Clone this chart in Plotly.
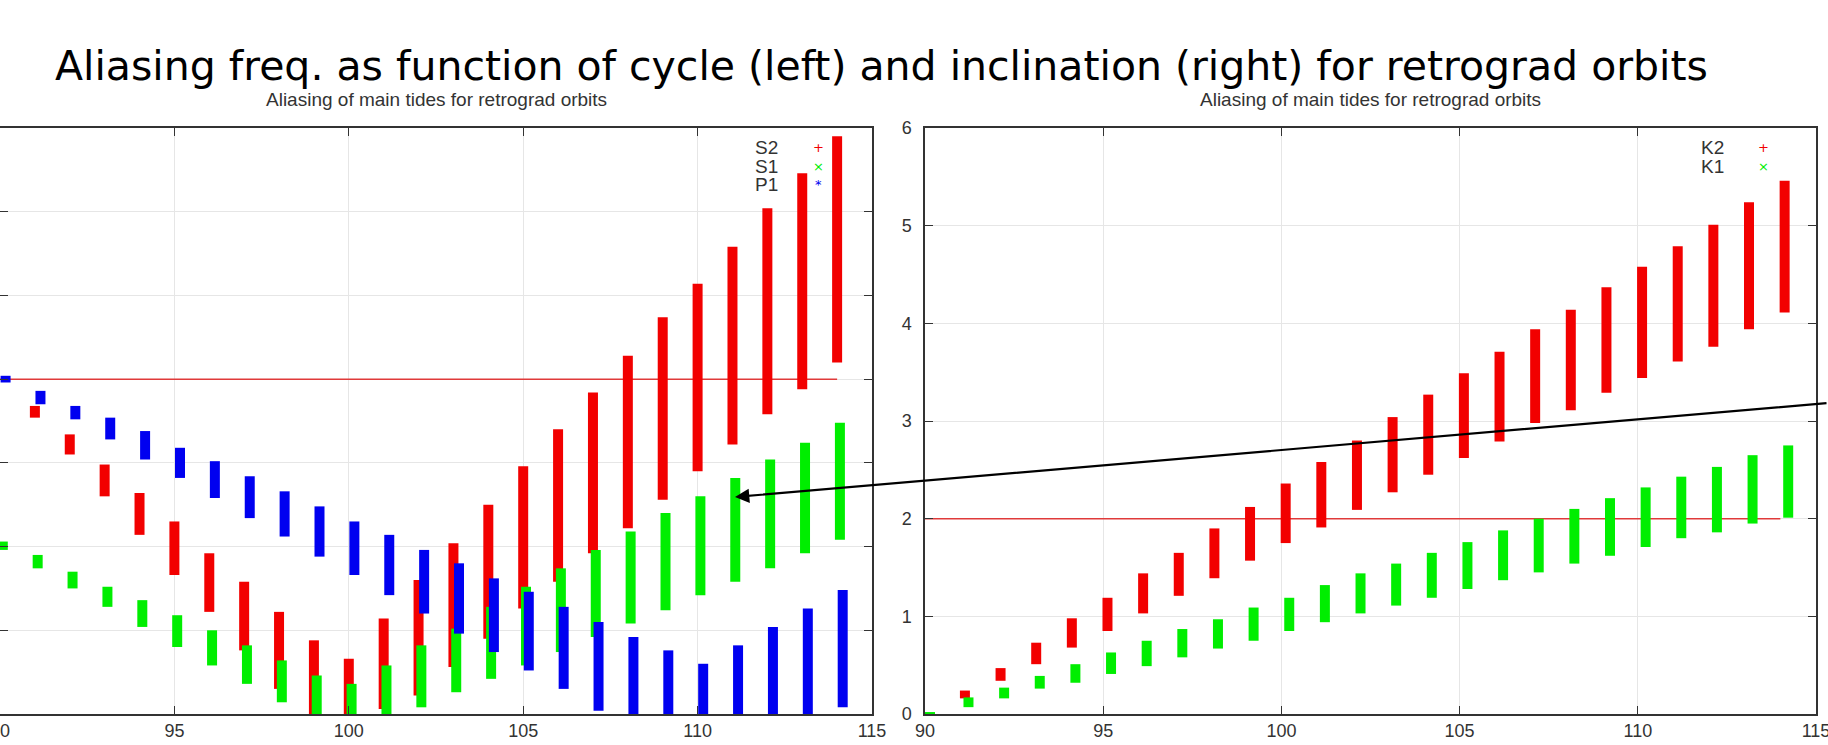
import plotly.graph_objects as go

W, H = 1828, 745

# ---------------- data: left plot (cycle) ----------------
s2_x  = [91.0, 92.0, 93.0, 94.0, 95.0, 96.0, 97.0, 98.0, 99.0, 100.0, 101.0, 102.0,
         103.0, 104.0, 105.0, 106.0, 107.0, 108.0, 109.0, 110.0, 111.0, 112.0, 113.0, 114.0]
s2_hi = [1.84, 1.67, 1.49, 1.32, 1.15, 0.96, 0.79, 0.61, 0.44, 0.33, 0.57, 0.80,
         1.02, 1.25, 1.48, 1.70, 1.92, 2.14, 2.37, 2.57, 2.79, 3.02, 3.23, 3.45]
s2_lo = [1.77, 1.55, 1.30, 1.07, 0.83, 0.61, 0.38, 0.15, 0.00, 0.00, 0.03, 0.11,
         0.28, 0.45, 0.63, 0.79, 0.96, 1.11, 1.28, 1.45, 1.61, 1.79, 1.94, 2.10]

s1_x  = [90.08, 91.08, 92.08, 93.08, 94.08, 95.08, 96.08, 97.08, 98.08, 99.08, 100.08, 101.08,
         102.08, 103.08, 104.08, 105.08, 106.08, 107.08, 108.08, 109.08, 110.08, 111.08,
         112.08, 113.08, 114.08]
s1_hi = [1.03, 0.95, 0.85, 0.76, 0.68, 0.59, 0.50, 0.41, 0.32, 0.23, 0.18, 0.29,
         0.41, 0.51, 0.64, 0.76, 0.87, 0.98, 1.09, 1.20, 1.30, 1.41, 1.52, 1.62, 1.74]
s1_lo = [0.98, 0.87, 0.75, 0.64, 0.52, 0.40, 0.29, 0.18, 0.07, 0.00, 0.00, 0.00,
         0.04, 0.13, 0.21, 0.29, 0.37, 0.46, 0.54, 0.62, 0.71, 0.79, 0.87, 0.96, 1.04]

p1_x  = [90.16, 91.16, 92.16, 93.16, 94.16, 95.16, 96.16, 97.16, 98.16, 99.16, 100.16, 101.16,
         102.16, 103.16, 104.16, 105.16, 106.16, 107.16, 108.16, 109.16, 110.16, 111.16,
         112.16, 113.16, 114.16]
p1_hi = [2.02, 1.93, 1.84, 1.77, 1.69, 1.59, 1.51, 1.42, 1.33, 1.24, 1.15, 1.07,
         0.98, 0.90, 0.81, 0.73, 0.64, 0.55, 0.46, 0.38, 0.30, 0.41, 0.52, 0.63, 0.74]
p1_lo = [1.98, 1.85, 1.76, 1.64, 1.52, 1.41, 1.29, 1.17, 1.06, 0.94, 0.83, 0.71,
         0.60, 0.48, 0.37, 0.26, 0.15, 0.02, 0.00, 0.00, 0.00, 0.00, 0.00, 0.00, 0.04]

# ---------------- data: right plot (inclination) ----------------
k2_x  = [91.12, 92.12, 93.12, 94.12, 95.12, 96.12, 97.12, 98.12, 99.12, 100.12, 101.12, 102.12,
         103.12, 104.12, 105.12, 106.12, 107.12, 108.12, 109.12, 110.12, 111.12, 112.12,
         113.12, 114.12]
k2_hi = [0.24, 0.47, 0.73, 0.98, 1.19, 1.44, 1.65, 1.90, 2.12, 2.36, 2.58, 2.80,
         3.04, 3.27, 3.49, 3.71, 3.94, 4.14, 4.37, 4.58, 4.79, 5.01, 5.24, 5.46]
k2_lo = [0.16, 0.34, 0.51, 0.68, 0.85, 1.03, 1.21, 1.39, 1.57, 1.75, 1.91, 2.09,
         2.27, 2.45, 2.62, 2.79, 2.98, 3.11, 3.29, 3.44, 3.61, 3.76, 3.94, 4.11]

k1_x  = [90.14, 91.22, 92.22, 93.22, 94.22, 95.22, 96.22, 97.22, 98.22, 99.22, 100.22, 101.22,
         102.22, 103.22, 104.22, 105.22, 106.22, 107.22, 108.22, 109.22, 110.22, 111.22,
         112.22, 113.22, 114.22]
k1_hi = [0.02, 0.17, 0.27, 0.39, 0.51, 0.63, 0.75, 0.87, 0.97, 1.09, 1.19, 1.32,
         1.44, 1.54, 1.65, 1.76, 1.88, 2.00, 2.10, 2.21, 2.32, 2.43, 2.53, 2.65, 2.75]
k1_lo = [0.00, 0.07, 0.16, 0.26, 0.32, 0.41, 0.49, 0.58, 0.67, 0.75, 0.85, 0.94,
         1.03, 1.11, 1.19, 1.28, 1.37, 1.45, 1.54, 1.62, 1.71, 1.80, 1.86, 1.95, 2.01]

ref_x = [90, 114]
ref_y = [2, 2]

x_ticks = [90, 95, 100, 105, 110, 115]

RED, GREEN, BLUE = "#f20000", "#00ee00", "#0000f0"
TXT = "#333333"
SANS = "Liberation Sans, Arial, sans-serif"


def segs(xs, lo, hi):
    X, Y = [], []
    for x, a, b in zip(xs, lo, hi):
        X += [x, x, None]
        Y += [a, b, None]
    return X, Y


fig = go.Figure()


def add_bars(xs, lo, hi, color, xa, ya, name):
    X, Y = segs(xs, lo, hi)
    fig.add_trace(go.Scatter(x=X, y=Y, mode="lines", name=name, showlegend=False,
                             line=dict(color=color, width=10), xaxis=xa, yaxis=ya,
                             hoverinfo="skip"))


# left plot
fig.add_trace(go.Scatter(x=ref_x, y=ref_y, mode="lines", showlegend=False,
                         line=dict(color="#e03a3a", width=1.5), xaxis="x", yaxis="y"))
add_bars(s2_x, s2_lo, s2_hi, RED, "x", "y", "S2")
add_bars(s1_x, s1_lo, s1_hi, GREEN, "x", "y", "S1")
add_bars(p1_x, p1_lo, p1_hi, BLUE, "x", "y", "P1")

# right plot
fig.add_trace(go.Scatter(x=ref_x, y=ref_y, mode="lines", showlegend=False,
                         line=dict(color="#e03a3a", width=1.5), xaxis="x2", yaxis="y2"))
add_bars(k2_x, k2_lo, k2_hi, RED, "x2", "y2", "K2")
add_bars(k1_x, k1_lo, k1_hi, GREEN, "x2", "y2", "K1")

ydom = [31 / H, 617 / H]
axis_common = dict(showline=True, linecolor="#333333", linewidth=1.5, mirror="ticks",
                   ticks="inside", ticklen=8, tickcolor="#333333", tickwidth=1,
                   showgrid=True, gridcolor="#e6e6e6", gridwidth=1, zeroline=False,
                   automargin=False, ticklabeloverflow="allow",
                   tickfont=dict(family=SANS, size=18, color=TXT))

fig.update_layout(
    width=W, height=H,
    margin=dict(l=0, r=0, t=0, b=0, autoexpand=False),
    paper_bgcolor="white", plot_bgcolor="white",
    xaxis=dict(domain=[0, 872 / W], range=[90, 115], tickvals=x_ticks, anchor="y",
               ticklabelstandoff=0, **axis_common),
    yaxis=dict(domain=ydom, range=[0, 3.5], dtick=0.5, anchor="x", showticklabels=False,
               **axis_common),
    xaxis2=dict(domain=[925 / W, 1816 / W], range=[90, 115], tickvals=x_ticks, anchor="y2",
                ticklabelstandoff=0, **axis_common),
    yaxis2=dict(domain=ydom, range=[0, 6], dtick=1, anchor="x2", ticklabelstandoff=8,
                **axis_common),
)

ann = []
# main title
ann.append(dict(text="Aliasing freq. as function of cycle (left) and inclination (right) for retrograd orbits",
                x=53 / W, y=(H - 66) / H, xref="paper", yref="paper", xanchor="left",
                yanchor="middle", showarrow=False,
                font=dict(family="Comic Sans MS, DejaVu Sans, sans-serif", size=41, color="black")))
# subtitles
for cx in (436, 1370):
    ann.append(dict(text="Aliasing of main tides for retrograd orbits",
                    x=cx / W, y=(H - 99) / H, xref="paper", yref="paper", xanchor="center",
                    yanchor="middle", showarrow=False,
                    font=dict(family=SANS, size=19, color=TXT)))


# legends (gnuplot style: label then symbol)
def legend(label, sym, color, x_lab, x_sym, y):
    ann.append(dict(text=label, x=x_lab / W, y=(H - y) / H, xref="paper", yref="paper",
                    xanchor="right", yanchor="middle", showarrow=False,
                    font=dict(family=SANS, size=19, color=TXT)))
    ann.append(dict(text=sym, x=x_sym / W, y=(H - y) / H, xref="paper", yref="paper",
                    xanchor="center", yanchor="middle", showarrow=False,
                    font=dict(family="DejaVu Sans, sans-serif", size=13, color=color)))


legend("S2", "+", RED, 780, 818, 148)
legend("S1", "×", GREEN, 780, 818, 167)
legend("P1", "*", BLUE, 780, 818, 185)
legend("K2", "+", RED, 1726, 1763, 148)
legend("K1", "×", GREEN, 1726, 1763, 167)

# arrow
ann.append(dict(text="", x=735 / W, y=(H - 497) / H, xref="paper", yref="paper",
                ax=1100, ay=-94, axref="pixel", ayref="pixel", showarrow=True,
                arrowhead=2, arrowsize=1.3, arrowwidth=2.2, arrowcolor="black", standoff=0))

fig.update_layout(annotations=ann)

fig.write_html("out.html")
